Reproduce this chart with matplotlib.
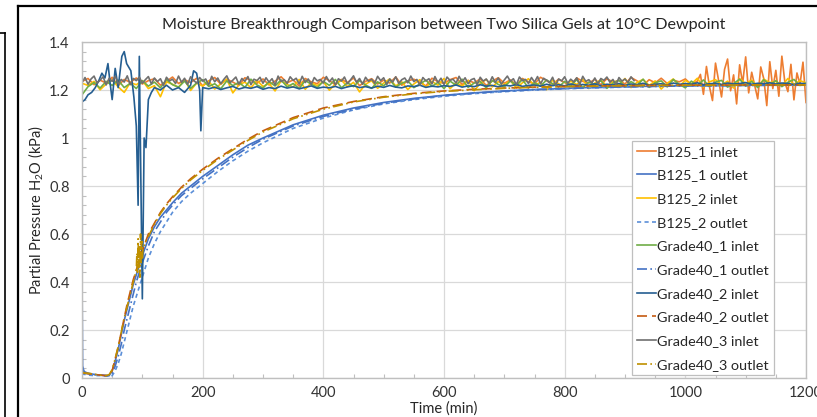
import numpy as np
import matplotlib
matplotlib.use("Agg")
import matplotlib.pyplot as plt
from matplotlib.lines import Line2D

plt.rcParams['font.family'] = ['Lato', 'DejaVu Sans']
plt.rcParams['mathtext.fontset'] = 'custom'
plt.rcParams['mathtext.rm'] = 'Lato'

# ---- data (kPa vs min) ----
# inlet streams, sampled every 10 min (grey one every 5 min)
t_inlet = np.arange(0, 1201, 10)
t_grey = np.arange(0, 916, 5)
t_orange = np.concatenate([np.arange(0, 1021, 10), np.arange(1025, 1201, 5)])

b125_1_inlet = [
    1.236, 1.248, 1.222, 1.241, 1.229, 1.253, 1.218, 1.244, 1.232, 1.250,
    1.225, 1.239, 1.247, 1.220, 1.236, 1.254, 1.227, 1.243, 1.231, 1.249,
    1.217, 1.238, 1.252, 1.224, 1.245, 1.233, 1.219, 1.251, 1.240, 1.228,
    1.246, 1.221, 1.237, 1.255, 1.230, 1.242, 1.216, 1.248, 1.234, 1.226,
    1.253, 1.239, 1.222, 1.244, 1.231, 1.250, 1.218, 1.236, 1.247, 1.225,
    1.241, 1.229, 1.254, 1.220, 1.238, 1.245, 1.232, 1.217, 1.249, 1.235,
    1.227, 1.243, 1.252, 1.223, 1.240, 1.230, 1.246, 1.219, 1.237, 1.251,
    1.228, 1.242, 1.221, 1.248, 1.234, 1.226, 1.253, 1.239, 1.224, 1.245,
    1.231, 1.218, 1.250, 1.236, 1.229, 1.244, 1.222, 1.247, 1.233, 1.240,
    1.225, 1.252, 1.238, 1.219, 1.243, 1.230, 1.249, 1.227, 1.241, 1.234,
    1.246, 1.223, 1.237,
    1.265, 1.182, 1.298, 1.214, 1.156, 1.312, 1.241, 1.171, 1.286, 1.329,
    1.197, 1.263, 1.142, 1.305, 1.228, 1.338, 1.188, 1.274, 1.219, 1.163,
    1.296, 1.247, 1.135, 1.318, 1.206, 1.282, 1.174, 1.341, 1.232, 1.193,
    1.307, 1.159, 1.271, 1.224, 1.316, 1.148]

b125_2_inlet = [
    1.228, 1.219, 1.236, 1.201, 1.225, 1.242, 1.213, 1.190, 1.231, 1.222,
    1.239, 1.206, 1.218, 1.172, 1.234, 1.224, 1.211, 1.243, 1.198, 1.229,
    1.216, 1.237, 1.204, 1.226, 1.245, 1.188, 1.221, 1.233, 1.209, 1.240,
    1.215, 1.227, 1.196, 1.238, 1.223, 1.212, 1.244, 1.203, 1.230, 1.218,
    1.235, 1.199, 1.226, 1.241, 1.214, 1.232, 1.192, 1.224, 1.239, 1.207,
    1.229, 1.246, 1.217, 1.234, 1.202, 1.225, 1.243, 1.211, 1.236, 1.220,
    1.248, 1.205, 1.231, 1.216, 1.240, 1.197, 1.227, 1.244, 1.213, 1.235,
    1.222, 1.239, 1.208, 1.230, 1.247, 1.218, 1.233, 1.201, 1.241, 1.226,
    1.212, 1.237, 1.223, 1.245, 1.206, 1.229, 1.242, 1.215, 1.236, 1.221,
    1.248, 1.210, 1.232, 1.244, 1.219, 1.238, 1.204, 1.228, 1.246, 1.216,
    1.240, 1.225, 1.249, 1.212, 1.234, 1.243, 1.220, 1.237, 1.208, 1.247,
    1.227, 1.241, 1.214, 1.245, 1.231, 1.236, 1.218, 1.248, 1.223, 1.239,
    1.230]

g40_1_inlet = [
    1.180, 1.214, 1.231, 1.208, 1.236, 1.219, 1.241, 1.210, 1.228, 1.206,
    1.239, 1.216, 1.233, 1.209, 1.244, 1.222, 1.212, 1.237, 1.207, 1.229,
    1.243, 1.215, 1.226, 1.205, 1.238, 1.218, 1.232, 1.211, 1.245, 1.221,
    1.208, 1.235, 1.217, 1.242, 1.213, 1.227, 1.206, 1.240, 1.224, 1.210,
    1.236, 1.219, 1.244, 1.209, 1.230, 1.214, 1.239, 1.221, 1.207, 1.234,
    1.217, 1.243, 1.212, 1.228, 1.238, 1.210, 1.225, 1.241, 1.215, 1.232,
    1.206, 1.237, 1.220, 1.245, 1.211, 1.229, 1.235, 1.209, 1.240, 1.223,
    1.213, 1.238, 1.218, 1.244, 1.208, 1.231, 1.216, 1.242, 1.226, 1.212,
    1.236, 1.219, 1.243, 1.210, 1.233, 1.222, 1.239, 1.207, 1.228, 1.241,
    1.214, 1.235, 1.220, 1.245, 1.211, 1.230, 1.238, 1.213, 1.244, 1.224,
    1.209, 1.237, 1.218, 1.242, 1.215, 1.233, 1.240, 1.212, 1.227, 1.245,
    1.216, 1.236, 1.210, 1.243, 1.221, 1.239, 1.214, 1.232, 1.244, 1.219,
    1.229]

t_g40_2_inlet = [0, 5, 10, 16, 22, 28, 33, 38, 43, 47, 50, 55, 60, 66, 70, 74, 81, 86,
                 90, 93, 95, 100, 103, 106, 110, 115, 120, 130, 140, 150, 160, 170,
                 180, 185, 190, 195, 197, 200] + list(range(210, 1201, 10))
g40_2_inlet = [
    1.15, 1.16, 1.18, 1.19, 1.21, 1.24, 1.27, 1.25, 1.31, 1.22, 1.16, 1.29, 1.21,
    1.34, 1.36, 1.31, 1.28, 1.17, 1.05, 0.72, 1.34, 0.33, 1.00, 0.96, 1.16, 1.19,
    1.21, 1.20, 1.22, 1.20, 1.21, 1.19, 1.22, 1.28, 1.27, 1.20, 1.03, 1.21,
    1.205, 1.212, 1.202, 1.209, 1.215, 1.204, 1.211, 1.207, 1.214, 1.203,
    1.210, 1.206, 1.216, 1.208, 1.213, 1.205, 1.211, 1.217, 1.207, 1.212,
    1.209, 1.215, 1.206, 1.213, 1.218, 1.210, 1.214, 1.208, 1.216, 1.211,
    1.219, 1.212, 1.209, 1.217, 1.214, 1.220, 1.211, 1.216, 1.213, 1.218,
    1.215, 1.221, 1.212, 1.217, 1.214, 1.222, 1.216, 1.219, 1.213, 1.220,
    1.217, 1.223, 1.215, 1.219, 1.221, 1.216, 1.224, 1.218, 1.222, 1.217,
    1.225, 1.219, 1.223, 1.220, 1.226, 1.218, 1.224, 1.221, 1.227, 1.219,
    1.225, 1.222, 1.228, 1.220, 1.224, 1.226, 1.221, 1.229, 1.223, 1.227,
    1.224, 1.230, 1.222, 1.226, 1.228, 1.223, 1.229, 1.225, 1.227, 1.231,
    1.224, 1.228, 1.226, 1.230, 1.225, 1.229, 1.227, 1.223, 1.228, 1.226]

g40_3_inlet = [
    1.231, 1.252, 1.224, 1.246, 1.258, 1.229, 1.241, 1.255, 1.221, 1.249,
    1.236, 1.257, 1.226, 1.244, 1.233, 1.259, 1.222, 1.248, 1.239, 1.254,
    1.228, 1.243, 1.256, 1.225, 1.250, 1.235, 1.247, 1.219, 1.253, 1.238,
    1.245, 1.227, 1.258, 1.232, 1.249, 1.223, 1.255, 1.240, 1.229, 1.252,
    1.237, 1.246, 1.221, 1.257, 1.234, 1.250, 1.226, 1.244, 1.259, 1.230,
    1.241, 1.254, 1.224, 1.248, 1.236, 1.256, 1.222, 1.245, 1.239, 1.253,
    1.228, 1.251, 1.233, 1.247, 1.220, 1.258, 1.235, 1.243, 1.227, 1.255,
    1.240, 1.249, 1.225, 1.257, 1.231, 1.246, 1.223, 1.252, 1.238, 1.244,
    1.229, 1.256, 1.234, 1.250, 1.221, 1.247, 1.237, 1.254, 1.226, 1.242,
    1.259, 1.232, 1.248, 1.224, 1.253, 1.236, 1.245, 1.228, 1.257, 1.239,
    1.251, 1.222, 1.246, 1.233, 1.255, 1.227, 1.243, 1.250, 1.230, 1.258,
    1.235, 1.244, 1.220, 1.252, 1.238, 1.247, 1.225, 1.256, 1.231, 1.249,
    1.223, 1.254, 1.240, 1.245, 1.229, 1.257, 1.234, 1.251, 1.226, 1.243,
    1.248, 1.221, 1.253, 1.237, 1.246, 1.228, 1.255, 1.232, 1.250, 1.224,
    1.242, 1.258, 1.236, 1.247, 1.222, 1.254, 1.239, 1.244, 1.227, 1.252,
    1.233, 1.256, 1.225, 1.249, 1.241, 1.230, 1.253, 1.220, 1.246, 1.238,
    1.255, 1.228, 1.245, 1.234, 1.251, 1.223, 1.257, 1.236, 1.243, 1.229,
    1.250, 1.226, 1.248, 1.240, 1.254, 1.232, 1.244, 1.221, 1.252, 1.237,
    1.246, 1.231, 1.255, 1.239]

# outlet (breakthrough) curves
t_outlet = [0, 1, 3, 5, 10, 20, 30, 40, 45, 50, 55, 60, 65, 70, 75, 80, 85, 90, 95, 100,
            110, 120, 130, 140, 150, 165, 180, 200, 225, 250, 275, 300, 350, 400, 450,
            500, 550, 600, 650, 700, 750, 800, 850, 900, 950, 1000, 1050, 1100, 1150, 1200]

b125_1_outlet = [
    0.44, 0.05, 0.03, 0.025, 0.02, 0.015, 0.012, 0.01, 0.01, 0.03,
    0.07, 0.12, 0.18, 0.24, 0.29, 0.34, 0.39, 0.43, 0.47, 0.51,
    0.58, 0.63, 0.67, 0.70, 0.73, 0.77, 0.80, 0.84, 0.885, 0.93,
    0.97, 1.00, 1.055, 1.095, 1.125, 1.148, 1.165, 1.178, 1.188, 1.196,
    1.202, 1.207, 1.211, 1.214, 1.216, 1.218, 1.219, 1.22, 1.22, 1.221]

b125_2_outlet = [
    0.02, 0.02, 0.015, 0.015, 0.012, 0.01, 0.01, 0.008, 0.008, 0.01,
    0.03, 0.06, 0.10, 0.15, 0.20, 0.25, 0.30, 0.34, 0.38, 0.42,
    0.50, 0.56, 0.61, 0.65, 0.69, 0.735, 0.77, 0.81, 0.86, 0.905,
    0.945, 0.98, 1.04, 1.083, 1.117, 1.142, 1.16, 1.174, 1.185, 1.193,
    1.20, 1.205, 1.209, 1.212, 1.215, 1.217, 1.218, 1.219, 1.22, 1.22]

g40_1_outlet = [
    0.03, 0.03, 0.025, 0.02, 0.018, 0.014, 0.012, 0.01, 0.01, 0.02,
    0.05, 0.09, 0.14, 0.20, 0.25, 0.30, 0.35, 0.40, 0.44, 0.48,
    0.55, 0.61, 0.65, 0.69, 0.72, 0.76, 0.79, 0.83, 0.875, 0.92,
    0.96, 0.995, 1.05, 1.09, 1.12, 1.145, 1.163, 1.177, 1.187, 1.195,
    1.201, 1.206, 1.21, 1.213, 1.215, 1.217, 1.218, 1.219, 1.22, 1.22]

g40_2_outlet = [
    0.02, 0.02, 0.02, 0.02, 0.018, 0.015, 0.012, 0.01, 0.015, 0.03,
    0.08, 0.13, 0.19, 0.25, 0.31, 0.36, 0.41, 0.45, 0.49, 0.53,
    0.60, 0.645, 0.69, 0.725, 0.755, 0.795, 0.83, 0.87, 0.915, 0.955,
    0.995, 1.03, 1.085, 1.125, 1.152, 1.172, 1.186, 1.196, 1.203, 1.208,
    1.212, 1.215, 1.217, 1.218, 1.219, 1.22, 1.22, 1.221, 1.221, 1.221]

t_g40_3_outlet = [0, 5, 10, 20, 30, 40, 45, 50, 55, 60, 65, 70, 75, 80, 85, 88, 90, 91,
                  92, 93, 94, 95, 96, 97, 98, 99, 100, 101, 103, 106, 110, 120, 130, 140,
                  150, 165, 180, 200, 225, 250, 275, 300, 350, 400, 450, 500, 550, 600,
                  650, 700, 750, 800, 850, 900, 950, 1000, 1050, 1100, 1150, 1200]
g40_3_outlet = [
    0.025, 0.02, 0.02, 0.016, 0.012, 0.01, 0.014, 0.035, 0.08, 0.13,
    0.19, 0.25, 0.30, 0.35, 0.40, 0.43, 0.45, 0.52, 0.44, 0.58,
    0.46, 0.55, 0.42, 0.60, 0.48, 0.57, 0.50, 0.54, 0.55, 0.57,
    0.59, 0.64, 0.685, 0.72, 0.75, 0.79, 0.825, 0.865, 0.91, 0.95,
    0.99, 1.025, 1.08, 1.12, 1.15, 1.17, 1.184, 1.194, 1.201, 1.207,
    1.211, 1.214, 1.216, 1.218, 1.219, 1.22, 1.22, 1.221, 1.221, 1.221]

x_ticks = [0, 200, 400, 600, 800, 1000, 1200]
y_ticks = [0, 0.2, 0.4, 0.6, 0.8, 1.0, 1.2, 1.4]
y_tick_labels = ['0', '0.2', '0.4', '0.6', '0.8', '1', '1.2', '1.4']

# ---- figure ----
fig = plt.figure(figsize=(8.17, 4.17), dpi=100)
ax = fig.add_axes([82 / 817, 1 - 378 / 417, 724 / 817, 336 / 417])

lw = 1.2
ax.plot(t_orange, b125_1_inlet, color='#ED7D31', lw=lw, label='B125_1 inlet')
ax.plot(t_outlet, b125_1_outlet, color='#4472C4', lw=lw, label='B125_1 outlet')
ax.plot(t_inlet, b125_2_inlet, color='#FFC000', lw=lw, label='B125_2 inlet')
ax.plot(t_outlet, b125_2_outlet, color='#5B8FD8', lw=lw, dashes=(2.5, 2),
        label='B125_2 outlet')
ax.plot(t_inlet, g40_1_inlet, color='#70AD47', lw=lw, label='Grade40_1 inlet')
ax.plot(t_outlet, g40_1_outlet, color='#4472C4', lw=lw, dashes=(6, 2, 1, 2),
        label='Grade40_1 outlet')
ax.plot(t_g40_2_inlet, g40_2_inlet, color='#255E91', lw=lw, label='Grade40_2 inlet')
ax.plot(t_outlet, g40_2_outlet, color='#C55A11', lw=lw, dashes=(6, 3),
        label='Grade40_2 outlet')
ax.plot(t_grey, g40_3_inlet, color='#707070', lw=lw, label='Grade40_3 inlet')
ax.plot(t_g40_3_outlet, g40_3_outlet, color='#BF9000', lw=lw,
        dashes=(6, 2, 1, 2, 1, 2), label='Grade40_3 outlet')

ax.set_xlim(0, 1200)
ax.set_ylim(0, 1.4)
ax.set_xticks(x_ticks)
ax.set_yticks(y_ticks)
ax.set_yticklabels(y_tick_labels)
ax.set_xticks(np.arange(0, 1201, 50), minor=True)
ax.set_yticks(np.arange(0, 1.401, 0.04), minor=True)
ax.tick_params(which='major', length=0, labelsize=10.5, labelcolor='#333333')
ax.tick_params(axis='y', which='major', pad=9)
ax.tick_params(axis='x', which='major', pad=6)
ax.tick_params(which='minor', direction='in', length=3, color='#BFBFBF', width=0.8)
ax.grid(which='major', color='#D9D9D9', lw=0.9)
ax.set_axisbelow(True)
for s in ax.spines.values():
    s.set_color('#BFBFBF')
    s.set_linewidth(1.0)

ax.set_title('Moisture Breakthrough Comparison between Two Silica Gels at 10°C Dewpoint',
             fontsize=11.6, color='#262626', pad=9)
ax.set_xlabel('Time (min)', fontsize=10.5, color='#262626', labelpad=1)
ax.set_ylabel(r'Partial Pressure H$_\mathregular{2}$O (kPa)', fontsize=10.5,
              color='#262626', labelpad=2)

leg = ax.legend(loc='upper left', bbox_to_anchor=(0.76, 0.705), borderaxespad=0,
                fontsize=10.4, frameon=True, fancybox=False, framealpha=1,
                edgecolor='#BFBFBF', labelspacing=0.8, handlelength=1.3,
                handletextpad=0.12, borderpad=0.32)
leg.get_frame().set_linewidth(0.9)
for txt in leg.get_texts():
    txt.set_color('#262626')

# chart area borders (cropped screenshot frame)
fig.add_artist(Line2D([18 / 817, 18 / 817], [0, 1 - 5.5 / 417],
                      color='black', lw=1.6, transform=fig.transFigure))
fig.add_artist(Line2D([18 / 817, 1], [1 - 5.5 / 417, 1 - 5.5 / 417],
                      color='black', lw=1.6, transform=fig.transFigure))
fig.add_artist(Line2D([5 / 817, 5 / 817], [0, 1 - 33 / 417],
                      color='black', lw=1.2, transform=fig.transFigure))
fig.add_artist(Line2D([0, 5 / 817], [1 - 33 / 417, 1 - 33 / 417],
                      color='black', lw=1.2, transform=fig.transFigure))

fig.savefig('out.png', dpi=100)
